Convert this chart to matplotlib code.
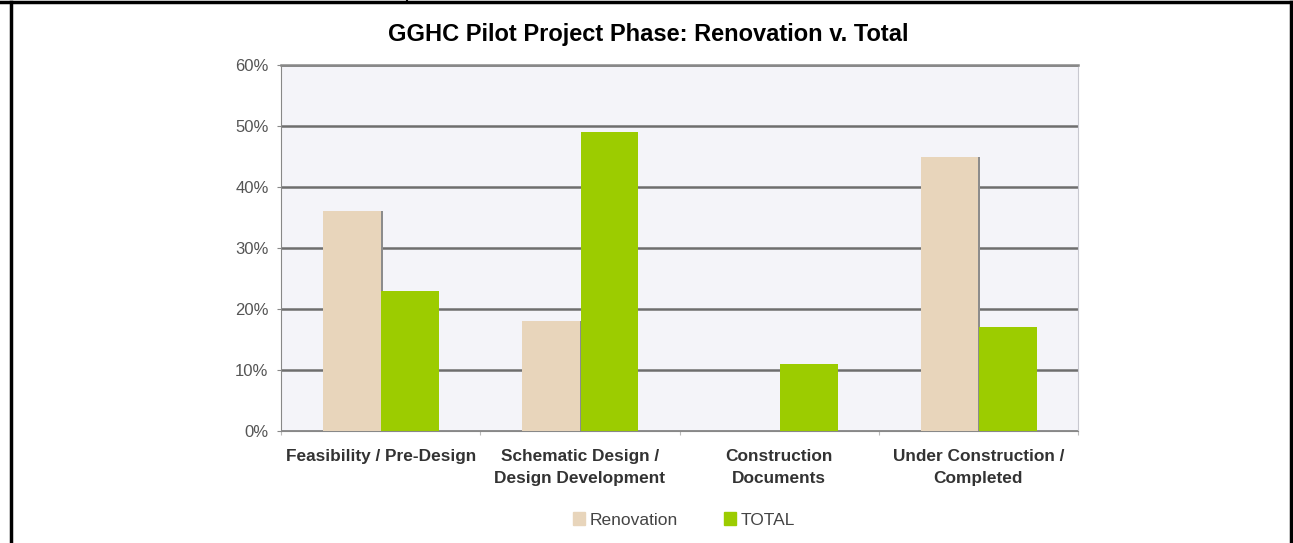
import matplotlib.pyplot as plt
from matplotlib.lines import Line2D
from matplotlib.patches import Patch
import numpy as np

categories = ["Feasibility / Pre-Design", "Schematic Design /\nDesign Development",
              "Construction\nDocuments", "Under Construction /\nCompleted"]
renovation = [36, 18, 0, 45]
total = [23, 49, 11, 17]
yticks = [0, 10, 20, 30, 40, 50, 60]

plt.rcParams['font.family'] = ['Liberation Sans', 'DejaVu Sans']

fig = plt.figure(figsize=(12.93, 5.43), dpi=100)
ax = fig.add_axes([281 / 1293, 1 - 431 / 543, (1078 - 281) / 1293, (431 - 65) / 543])
ax.set_facecolor('#f4f4f9')

x = np.arange(len(categories))
w = 0.29
# thin shadow on the right side of the renovation bars
ax.bar(x - w / 2 + 0.01, renovation, w, color='#8c8c8c', zorder=2)
ax.bar(x - w / 2, renovation, w, color='#e8d5bb', zorder=3, label='Renovation')
ax.bar(x + w / 2 + 0.004, total, w, color='#9ccc00', zorder=4, label='TOTAL')

ax.set_xlim(-0.5, len(categories) - 0.5)
ax.set_ylim(0, 60)
ax.set_yticks(yticks)
ax.set_yticklabels([f"{v}%" for v in yticks], fontsize=12, color='#555555')
ax.yaxis.grid(True, color='#6e6e6e', linewidth=1.8, zorder=1)
ax.set_axisbelow(True)
ax.tick_params(axis='y', length=3, color='#888888', pad=6)

ax.set_xticks(np.arange(len(categories) + 1) - 0.5)
ax.set_xticklabels([])
ax.tick_params(axis='x', length=3, color='#bbbbbb')
for i, c in enumerate(categories):
    ax.text(i, -2.9, c, ha='center', va='top', fontsize=12.4, fontweight='bold',
            color='#333333', linespacing=1.65)

for s in ['left', 'bottom', 'top']:
    ax.spines[s].set_color('#888888')
ax.spines['right'].set_color('#c8c8d0')
ax.spines['top'].set_linewidth(1.8)

fig.text(648 / 1293, 1 - 41 / 543, "GGHC Pilot Project Phase: Renovation v. Total",
         ha='center', va='baseline', fontsize=17, fontweight='bold', color='black')

handles = [Patch(color='#e8d5bb', label='Renovation'), Patch(color='#9ccc00', label='TOTAL')]
fig.legend(handles=handles, loc='center', bbox_to_anchor=(684 / 1293, 1 - 520 / 543),
           ncol=2, frameon=False, fontsize=12.5, handlelength=0.7, handleheight=0.7,
           columnspacing=2.6, handletextpad=0.3, labelcolor='#444444')

# table cell borders around the figure
fig.add_artist(Line2D([0, 1], [1 - 2 / 543, 1 - 2 / 543], color='black', linewidth=2.5))
fig.add_artist(Line2D([11 / 1293, 11 / 1293], [0, 1 - 2 / 543], color='black', linewidth=2.5))
fig.add_artist(Line2D([1291 / 1293, 1291 / 1293], [0, 1 - 2 / 543], color='black', linewidth=2.5))
fig.add_artist(Line2D([407 / 1293, 407 / 1293], [1 - 2 / 543, 1], color='black', linewidth=1.5))

fig.savefig('out.png', dpi=100)
